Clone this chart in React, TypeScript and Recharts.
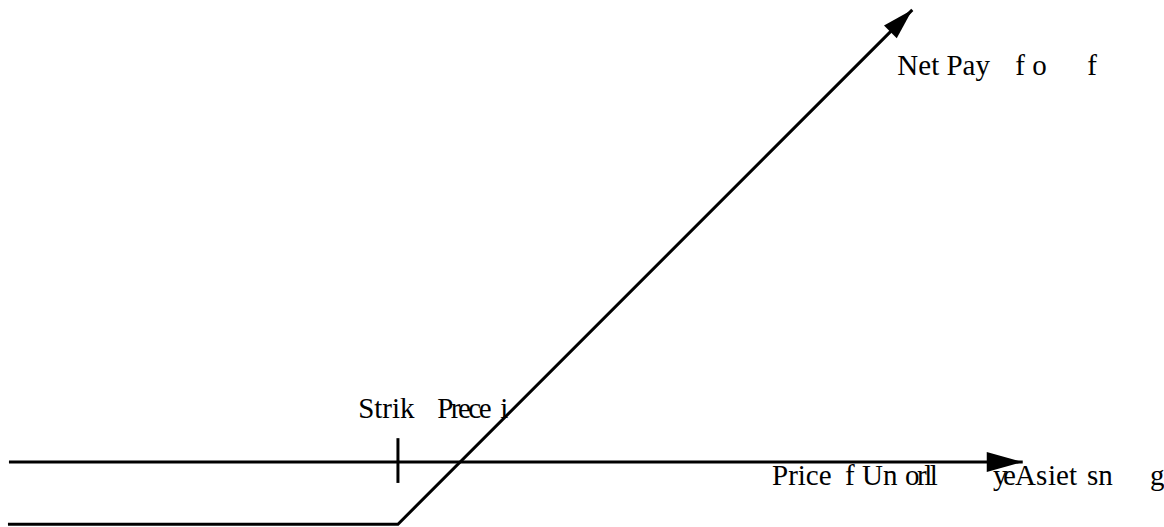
import React from 'react';
import {LineChart, Line, XAxis, YAxis, ReferenceLine, ReferenceDot} from 'recharts';

// payoff of a long call: flat at -premium until the strike, then rising 1:1
const payoffPrice = [0.8, 40, 91.7];
const payoffValue = [-6.25, -6.25, 45.45];

// the price axis, drawn as a line with an arrow at its right end
const axisPrice = [0.9, 102.8];
const axisValue = [0, 0];

const strikePrice = 40;
const strikeTick = [-2.1, 2.4];

// labels come out broken up in the source picture, so each piece sits on its own
// [text, offset from label start, letter spacing]
type Chunk = [string, number, number?];
const netPayChunks: Chunk[] = [['Net Pay', 0], ['f', 118], ['o', 135], ['f', 190]];
const strikeChunks: Chunk[] = [['Strik', 0], ['Prece', 79, -2.5], ['i', 142]];
const priceChunks: Chunk[] = [
    ['Price', 0], ['f', 73], ['Un', 90], ['orll', 133, -2.5],
    ['ye', 221, -4.5], ['As', 243], ['iet', 276], ['sn', 315], ['g', 378],
];

const payoffData = payoffPrice.map((x, i) => ({x, y: payoffValue[i]}));
const axisData = axisPrice.map((x, i) => ({x, y: axisValue[i]}));

const FONT = 'Liberation Serif, Times New Roman, serif';

const arrowDot = (count: number, angle: number, len: number, half: number) => (props: any) => {
    const {cx, cy, index} = props;
    if (index !== count - 1) return <g key={`d${index}`}/>;
    return (
        <polygon
            key={`d${index}`}
            points={`0,0 ${-len},${-half} ${-len},${half}`}
            transform={`translate(${cx},${cy}) rotate(${angle})`}
            fill="#000"
        />
    );
};

const chunkLabel = (chunks: Chunk[]) => (props: any) => {
    const {viewBox} = props;
    const x = viewBox.x + (viewBox.width || 0) / 2;
    const y = viewBox.y + (viewBox.height || 0) / 2;
    return (
        <g>
            {chunks.map(([t, dx, ls], i) => (
                <text
                    key={i}
                    x={x + dx}
                    y={y}
                    style={{fontFamily: FONT, letterSpacing: ls ? `${ls}px` : undefined}}
                    fontSize={29}
                    fill="#000"
                >
                    {t}
                </text>
            ))}
        </g>
    );
};

const App: React.FC = () => {
    return (
        <div style={{position: 'absolute', left: 0, top: 0, background: '#fff'}}>
            <LineChart width={1164} height={527} margin={{top: 0, right: 0, bottom: 0, left: 0}}>
                <XAxis type="number" dataKey="x" domain={[0, 117]} hide allowDataOverflow/>
                <YAxis type="number" dataKey="y" domain={[-6.53, 46.44]} hide allowDataOverflow/>
                <Line
                    data={axisData}
                    dataKey="y"
                    type="linear"
                    stroke="#000"
                    strokeWidth={3}
                    dot={arrowDot(axisData.length, 0, 36, 10)}
                    activeDot={false}
                    isAnimationActive={false}
                />
                <Line
                    data={payoffData}
                    dataKey="y"
                    type="linear"
                    stroke="#000"
                    strokeWidth={3}
                    dot={arrowDot(payoffData.length, -45, 31, 9)}
                    activeDot={false}
                    isAnimationActive={false}
                />
                <ReferenceLine
                    segment={[{x: strikePrice, y: strikeTick[0]}, {x: strikePrice, y: strikeTick[1]}]}
                    stroke="#000"
                    strokeWidth={3}
                />
                <ReferenceDot x={90.2} y={38.9} r={0} label={chunkLabel(netPayChunks)}/>
                <ReferenceDot x={36} y={4.42} r={0} label={chunkLabel(strikeChunks)}/>
                <ReferenceDot x={77.6} y={-2.31} r={0} label={chunkLabel(priceChunks)}/>
            </LineChart>
        </div>
    );
};

export default App;
